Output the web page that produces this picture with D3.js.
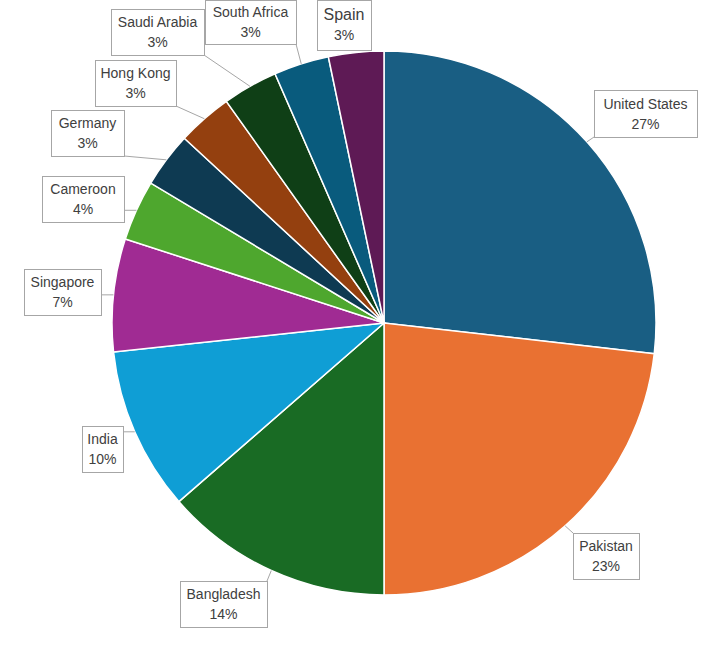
<!DOCTYPE html>
<html><head><meta charset="utf-8">
<script src="https://cdn.jsdelivr.net/npm/d3@7"></script>
<style>body{margin:0;background:#fff}</style>
</head><body>
<svg width="719" height="648"></svg>
<script>
// Data
var countries = ["United States", "Pakistan", "Bangladesh", "India", "Singapore", "Cameroon", "Germany", "Hong Kong", "Saudi Arabia", "South Africa", "Spain"];
var shares = [26.8, 23.2, 13.6, 9.7, 6.7, 3.6, 3.28, 3.28, 3.28, 3.28, 3.28];
var shareLabels = ["27%", "23%", "14%", "10%", "7%", "4%", "3%", "3%", "3%", "3%", "3%"];
var colors = ["#195E83", "#E97132", "#196B24", "#0F9ED5", "#A02B93", "#4EA72E", "#0E3A52", "#94400F", "#0F3F16", "#095B7D", "#5E1A55"];
// label boxes: [left, top, width, height]
var boxes = [[594, 90, 103, 47], [573, 533, 66, 46], [180, 581, 87, 46], [82, 426, 41, 46], [24, 269, 77, 46],
  [42, 176, 82, 46], [51, 110, 73, 46], [95, 60, 81, 46], [111, 9, 93, 46], [205, 0, 91, 44], [317, 0, 54, 50]];

var svg = d3.select("svg");
var cx = 384, cy = 323, r = 272;
var g = svg.append("g").attr("transform", "translate(" + cx + "," + cy + ")");

var pie = d3.pie().sort(null).value(function (d) { return d; });
var arcs = pie(shares);
var arc = d3.arc().innerRadius(0).outerRadius(r);

g.selectAll("path").data(arcs).enter().append("path")
  .attr("d", arc)
  .attr("fill", function (d, i) { return colors[i]; })
  .attr("stroke", "#fff").attr("stroke-width", 1.5);

// leader lines
arcs.forEach(function (d, i) {
  var a = (d.startAngle + d.endAngle) / 2;
  var px = cx + Math.sin(a) * r, py = cy - Math.cos(a) * r;
  var b = boxes[i];
  var qx = Math.max(b[0], Math.min(b[0] + b[2], px));
  var qy = Math.max(b[1], Math.min(b[1] + b[3], py));
  var inside = qx > b[0] && qx < b[0] + b[2] && qy > b[1] && qy < b[1] + b[3];
  if (Math.hypot(qx - px, qy - py) > 4 && !inside) {
    svg.append("line").attr("x1", qx).attr("y1", qy).attr("x2", px).attr("y2", py)
      .attr("stroke", "#a6a6a6").attr("stroke-width", 1);
  }
});

// labels
boxes.forEach(function (b, i) {
  var lg = svg.append("g");
  lg.append("rect").attr("x", b[0] + 0.5).attr("y", b[1] + 0.5).attr("width", b[2]).attr("height", b[3])
    .attr("fill", "#fff").attr("stroke", "#a6a6a6");
  var big = countries[i] === "Spain";
  var fs = big ? 16 : 14;
  lg.append("text").attr("x", b[0] + b[2] / 2).attr("y", b[1] + b[3] / 2 - 5)
    .attr("text-anchor", "middle").attr("font-family", "Liberation Sans, Arial, sans-serif")
    .attr("font-size", fs).attr("fill", "#404040").text(countries[i]);
  lg.append("text").attr("x", b[0] + b[2] / 2).attr("y", b[1] + b[3] / 2 + 15)
    .attr("text-anchor", "middle").attr("font-family", "Liberation Sans, Arial, sans-serif")
    .attr("font-size", 14).attr("fill", "#404040").text(shareLabels[i]);
});
</script>
</body></html>
